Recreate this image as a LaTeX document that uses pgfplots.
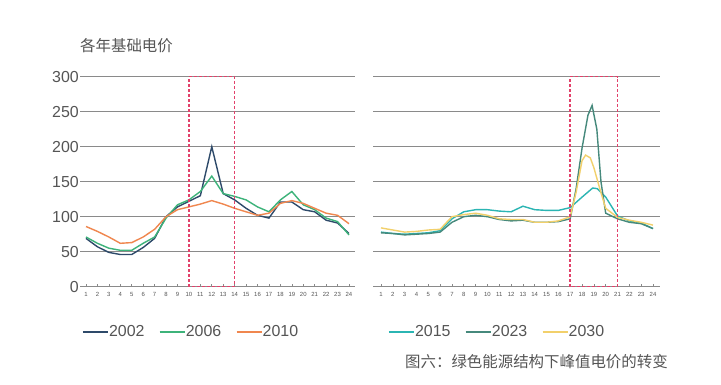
\documentclass[border=0pt]{standalone}
\usepackage{pgfplots}
\pgfplotsset{compat=1.18}
\usepackage{fontspec}
\setmainfont{Liberation Sans}
\newfontfamily\cjk{Noto Sans CJK SC}
\definecolor{cA}{HTML}{2E4A6A}
\definecolor{cB}{HTML}{3DB37A}
\definecolor{cC}{HTML}{F0874F}
\definecolor{cD}{HTML}{2BB5B3}
\definecolor{cE}{HTML}{46897C}
\definecolor{cF}{HTML}{F2D06B}
\definecolor{boxred}{HTML}{E2416A}
\definecolor{gridg}{HTML}{8A8A8A}
\definecolor{txtg}{HTML}{555555}
\tikzset{redbox/.style={boxred, line width=1.5bp, dash pattern=on 3bp off 2bp}}
\pgfplotsset{
  common/.style={
    scale only axis, height=210bp, ymin=0, ymax=300,
    separate axis lines,
    axis x line*=bottom, axis y line*=left,
    y axis line style={draw=none},
    x axis line style={draw=gridg, line width=0.6bp},
    ytick={50,100,...,300},
    extra y ticks={0}, extra y tick style={grid=none},
    ymajorgrids, grid style={draw=gridg, line width=1.2bp},
    xtick={1,...,24},
    tick align=inside, major tick length=3bp,
    xtick style={draw=gridg, line width=0.6bp},
    ytick style={draw=none},
    xticklabel style={font=\fontsize{6}{6}\selectfont, text=txtg, yshift=-2bp},
    yticklabel style={font=\fontsize{16}{16}\selectfont, text=txtg, inner sep=0pt, xshift=-1bp},
    /pgf/number format/assume math mode=true,
    clip=false,
    legend columns=3,
    legend image code/.code={\draw[##1, line width=1.4bp] (0bp,0bp) -- (25bp,0bp);},
    legend style={draw=none, fill=none, inner sep=0pt, anchor=west,
      font=\fontsize{16}{16}\selectfont, text=txtg,
      nodes={inner sep=0.5bp},
      /tikz/every even column/.append style={column sep=14bp}},
    every axis plot/.append style={line width=1.4bp, no marks},
  },
}
\begin{document}
\begin{tikzpicture}
\path[use as bounding box, fill=white] (0bp,0bp) rectangle (721bp,385bp);
% left axis
\begin{axis}[common, at={(80bp,98.3bp)}, anchor=south west, width=275bp,
  xmin=0.475, xmax=24.525,
  legend style={at={(0.007,-0.216)}}]
\addplot[cA] coordinates {(1,69)(2,57)(3,49)(4,46)(5,46)(6,56)(7,69)(8,100)(9,114)(10,122)(11,130)(12,200)(13,133)(14,124)(15,112)(16,102)(17,98)(18,121)(19,121)(20,110)(21,107)(22,95)(23,91)(24,76)};
\addplot[cB] coordinates {(1,71)(2,62)(3,55)(4,52)(5,52)(6,62)(7,71)(8,98)(9,117)(10,124)(11,136)(12,158)(13,133)(14,129)(15,124)(16,114)(17,107)(18,124)(19,136)(20,117)(21,110)(22,98)(23,93)(24,74)};
\addplot[cC] coordinates {(1,86)(2,79)(3,71)(4,62)(5,63)(6,71)(7,82)(8,100)(9,110)(10,114)(11,118)(12,123)(13,118)(14,112)(15,107)(16,102)(17,105)(18,119)(19,123)(20,119)(21,112)(22,105)(23,102)(24,90)};
\legend{2002,2006,2010}
\draw[redbox] (10,0) rectangle (14,300);
\end{axis}
% right axis
\begin{axis}[common, at={(373bp,98.3bp)}, anchor=south west, width=287bp,
  xmin=0.3235, xmax=24.592, yticklabels={}, extra y tick labels={},
  legend style={at={(0.052,-0.216)}}]
\addplot[cD] coordinates {(1,78)(2,76)(3,75)(4,76)(5,77)(6,80)(7,97)(8,107)(9,110)(10,110)(11,108)(12,107)(13,115)(14,110)(15,109)(16,109)(17,113)(18,128)(18.9,141)(19.3,140)(20,128)(21,101)(22,94)(23,91)(24,83)};
\addplot[cE] coordinates {(1,77)(2,76)(3,74)(4,75)(5,76)(6,78)(7,92)(8,100)(9,102)(10,100)(11,96)(12,94)(13,95)(14,92)(15,92)(16,93)(17,97)(17.5,140)(18,198)(18.5,245)(18.85,259)(19.25,225)(19.6,150)(20,105)(21,97)(22,92)(23,90)(24,83)};
\addplot[cF] coordinates {(1,84)(2,81)(3,78)(4,79)(5,81)(6,82)(7,100)(8,103)(9,105)(10,102)(11,97)(12,96)(13,96)(14,92)(15,92)(16,94)(17,100)(17.5,135)(18,180)(18.3,188)(18.7,184)(19,170)(19.5,140)(20,112)(21,99)(22,95)(23,92)(24,88)};
\legend{2015,2023,2030}
\draw[redbox] (17,0) rectangle (21,300);
\end{axis}
\node[anchor=west, inner sep=0pt, text=txtg, font=\cjk\fontsize{15.5}{15.5}\selectfont] at (80bp,339bp) {各年基础电价};
\node[anchor=west, inner sep=0pt, text=txtg, font=\cjk\fontsize{15.5}{15.5}\selectfont] at (405bp,23bp) {图六：绿色能源结构下峰值电价的转变};
\end{tikzpicture}
\end{document}
